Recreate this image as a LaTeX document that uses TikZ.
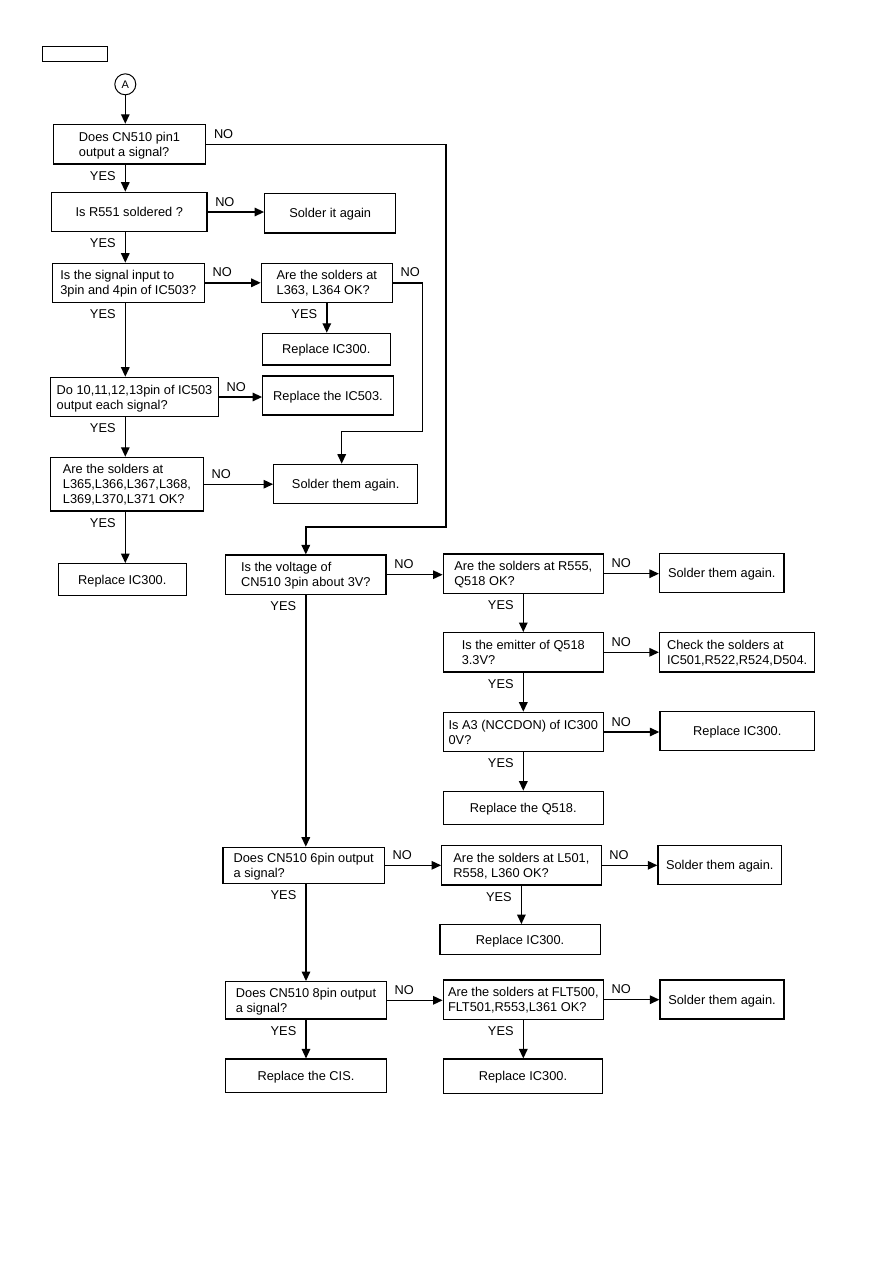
\documentclass[tikz,border=0pt]{standalone}
\usepackage{fontspec}
\setmainfont{Liberation Sans}
\usetikzlibrary{arrows.meta,positioning}

\begin{document}
\begin{tikzpicture}[x=1pt, y=-1pt,
    every node/.style={font=\fontsize{12.8}{15}\selectfont},
    box/.style={draw, line width=1.2pt, inner sep=2pt, align=left, text depth=0pt},
    sz/.style 2 args={minimum width=#1pt, minimum height=#2pt},
    arr/.style={-{Triangle[length=9.5pt,width=8.5pt]}, line width=1.4pt},
    nolbl/.style={inner sep=2pt, anchor=south west, xshift=5pt, yshift=3pt},
    yeslbl/.style={inner sep=2pt, anchor=north east, xshift=-7pt, yshift=-4pt}]
  \useasboundingbox (0,0) rectangle (893,1263);

  % left column
  \node[draw, line width=0.8pt, sz={65}{15}] (tag) at (74.5,53.5) {};
  \node[draw, circle, line width=1pt, minimum size=21pt, inner sep=0pt, font=\fontsize{11}{13}\selectfont] (A) at (125.3,84.3) {A};
  \node[box, sz={152.4}{39.7}] (q1) at (129.5,144.2) {Does CN510 pin1\\output a signal?};
  \node[box, sz={155.3}{39.4}] (q2) at (129.3,212) {Is R551 soldered ?};
  \node[box, sz={131}{39.3}] (a2) at (330.2,213.3) {Solder it again};
  \node[box, sz={152}{39}] (q3) at (128.3,282.8) {Is the signal input to\\3pin and 4pin of IC503?};
  \node[box, sz={131}{39}] (q3b) at (326.8,282.8) {Are the solders at\\L363, L364 OK?};
  \node[box, sz={128}{31.7}] (a3b) at (326.3,349.2) {Replace IC300.};
  \node[box, sz={167.6}{39.4}] (q4) at (134.5,397) {Do 10,11,12,13pin of IC503\\output each signal?};
  \node[box, sz={130.6}{39}] (a4) at (328,395.5) {Replace the IC503.};
  \node[box, sz={152.6}{53.7}] (q5) at (127,484.2) {Are the solders at\\L365,L366,L367,L368,\\L369,L370,L371 OK?};
  \node[box, sz={144}{39}] (a5) at (345.7,483.8) {Solder them again.};
  \node[box, sz={128}{31.6}] (a5y) at (122.3,579.5) {Replace IC300.};

  % right part
  \node[box, sz={160.5}{39.3}] (q6) at (305.8,574.7) {Is the voltage of\\CN510 3pin about 3V?};
  \node[box, sz={160.2}{39.3}] (q6b) at (523.3,573.7) {Are the solders at R555,\\Q518 OK?};
  \node[box, sz={124.5}{39.4}] (a6b) at (721.8,573) {Solder them again.};
  \node[box, sz={160.2}{39.3}] (q7) at (523.3,652.3) {Is the emitter of Q518\\3.3V?};
  \node[box, sz={155.2}{39.3}] (a7) at (737.1,652.3) {Check the solders at\\IC501,R522,R524,D504.};
  \node[box, sz={160.2}{39.4}] (q8) at (523.3,732) {Is A3 (NCCDON) of IC300\\0V?};
  \node[box, sz={154.8}{39}] (a8) at (737.3,731.2) {Replace IC300.};
  \node[box, sz={160.2}{33.4}] (a8y) at (523.3,808) {Replace the Q518.};
  \node[box, sz={161.4}{36}] (q9) at (303.7,865.3) {Does CN510 6pin output\\a signal?};
  \node[box, sz={159.4}{39.3}] (q9b) at (521.4,865.3) {Are the solders at L501,\\R558, L360 OK?};
  \node[box, sz={123.7}{39}] (a9b) at (719.8,864.8) {Solder them again.};
  \node[box, sz={160.3}{30}] (a9y) at (520.1,939.7) {Replace IC300.};
  \node[box, sz={160.5}{37.3}] (q10) at (306,1000.3) {Does CN510 8pin output\\a signal?};
  \node[box, sz={160.2}{39.3}] (q10b) at (523.3,999.7) {Are the solders at FLT500,\\FLT501,R553,L361 OK?};
  \node[box, sz={124}{39}] (a10b) at (722,999.5) {Solder them again.};
  \node[box, sz={160.5}{33.3}] (a10y) at (306,1075.7) {Replace the CIS.};
  \node[box, sz={159.4}{34.3}] (a10c) at (523,1076.2) {Replace IC300.};

  \coordinate (bendA) at (446,527);
  \coordinate (bendB) at (422.7,431.7);

  % connectors
  \draw[arr] (A) -- (A |- q1.north);
  \draw[arr] (A |- q1.south) node[yeslbl] (y1) {YES} -- (A |- q2.north);
  \draw[arr] (q1.east) node[nolbl] (n1) {NO} -| (bendA) -| (q6.north);
  \draw[arr] (q2.east) node[nolbl] (n2) {NO} -- (q2.east -| a2.west);
  \draw[arr] (A |- q2.south) node[yeslbl] (y2) {YES} -- (A |- q3.north);
  \draw[arr] (q3.east) node[nolbl] (n3) {NO} -- (q3.east -| q3b.west);
  \draw[arr] (q3b.east) node[nolbl] (n3b) {NO} -| (bendB) -| ([xshift=-4pt]a5.north);
  \draw[arr] (q3b.south) node[yeslbl] (y3b) {YES} -- (q3b.south |- a3b.north);
  \draw[arr] (A |- q3.south) node[yeslbl] (y3) {YES} -- (A |- q4.north);
  \draw[arr] (q4.east) node[nolbl] (n4) {NO} -- (q4.east -| a4.west);
  \draw[arr] (A |- q4.south) node[yeslbl] (y4) {YES} -- (A |- q5.north);
  \draw[arr] (q5.east) node[nolbl] (n5) {NO} -- (q5.east -| a5.west);
  \draw[arr] (A |- q5.south) node[yeslbl] (y5) {YES} -- (A |- a5y.north);

  \draw[arr] (q6.east) node[nolbl] (n6) {NO} -- (q6.east -| q6b.west);
  \draw[arr] (q6b.east) node[nolbl] (n6b) {NO} -- (q6b.east -| a6b.west);
  \draw[arr] (q6b.south) node[yeslbl] (y6b) {YES} -- (q7.north);
  \draw[arr] (q7.east) node[nolbl] (n7) {NO} -- (q7.east -| a7.west);
  \draw[arr] (q7.south) node[yeslbl] (y7) {YES} -- (q8.north);
  \draw[arr] (q8.east) node[nolbl] (n8) {NO} -- (q8.east -| a8.west);
  \draw[arr] (q8.south) node[yeslbl] (y8) {YES} -- (a8y.north);
  \draw[arr] (q6.south) node[yeslbl] (y6) {YES} -- (q6.south |- q9.north);
  \draw[arr] (q9.east) node[nolbl] (n9) {NO} -- (q9.east -| q9b.west);
  \draw[arr] (q9b.east) node[nolbl] (n9b) {NO} -- (q9b.east -| a9b.west);
  \draw[arr] (q9b.south) node[yeslbl] (y9b) {YES} -- (q9b.south |- a9y.north);
  \draw[arr] (q10.north |- q9.south) node[yeslbl] (y9) {YES} -- (q10.north);
  \draw[arr] (q10.east) node[nolbl] (n10) {NO} -- (q10.east -| q10b.west);
  \draw[arr] (q10b.east) node[nolbl] (n10b) {NO} -- (q10b.east -| a10b.west);
  \draw[arr] (q10.south) node[yeslbl] (y10) {YES} -- (a10y.north);
  \draw[arr] (q10b.south) node[yeslbl] (y10b) {YES} -- (q10b.south |- a10c.north);
\end{tikzpicture}
\end{document}
